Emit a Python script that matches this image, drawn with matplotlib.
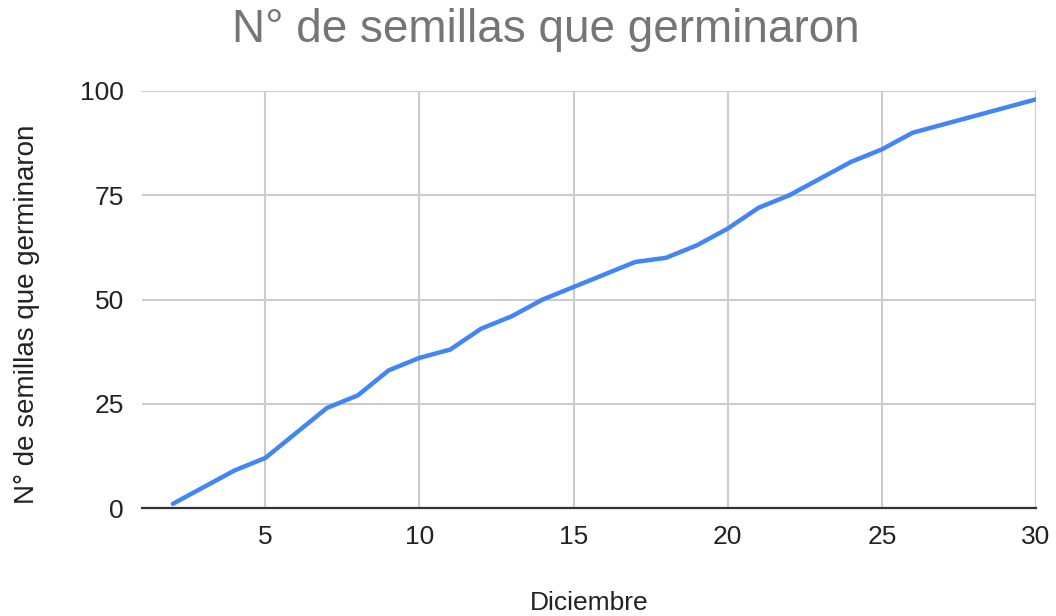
import matplotlib
matplotlib.use("Agg")
import matplotlib.pyplot as plt

dias = [2, 4, 5, 7, 8, 9, 10, 11, 12, 13, 14, 15, 17, 18, 19, 20, 21, 22, 24, 25, 26, 30]
semillas = [1, 9, 12, 24, 27, 33, 36, 38, 43, 46, 50, 53, 59, 60, 63, 67, 72, 75, 83, 86, 90, 98]
xticks = [5, 10, 15, 20, 25, 30]
yticks = [0, 25, 50, 75, 100]

plt.rcParams['font.family'] = ['Liberation Sans', 'DejaVu Sans']

W, H = 1056, 616
fig = plt.figure(figsize=(W / 100, H / 100), dpi=100)
ax = fig.add_axes([142 / W, (H - 508) / H, (1036 - 142) / W, (508 - 91) / H])

ax.plot(dias, semillas, color='#4285F4', linewidth=3.2, solid_capstyle='round', solid_joinstyle='round', zorder=3)

ax.set_xlim(1, 30)
ax.set_ylim(0, 100)
ax.set_xticks(xticks)
ax.set_yticks(yticks)
ax.grid(True, color='#cccccc', linewidth=1.5, zorder=0)
for s in ['top', 'right', 'left']:
    ax.spines[s].set_visible(False)
ax.spines['bottom'].set_color('#333333')
ax.spines['bottom'].set_linewidth(1.6)
ax.spines['bottom'].set_zorder(4)
ax.tick_params(axis='both', length=0, labelsize=19, labelcolor='#222222')
ax.tick_params(axis='x', pad=12)
ax.tick_params(axis='y', pad=13)

ax.set_xlabel('Diciembre', fontsize=19, color='#222222', va='center')
ax.xaxis.set_label_coords((589 - 142) / 894, (508 - 603) / 417)
ax.set_ylabel('N° de semillas que germinaron', fontsize=20, color='#222222', va='center')
ax.yaxis.set_label_coords((27 - 142) / 894, (508 - 314) / 417)
fig.text(546 / W, 1 - 30 / H, 'N° de semillas que germinaron', fontsize=33, color='#757575',
         ha='center', va='center')

fig.savefig('out.png', dpi=100)
